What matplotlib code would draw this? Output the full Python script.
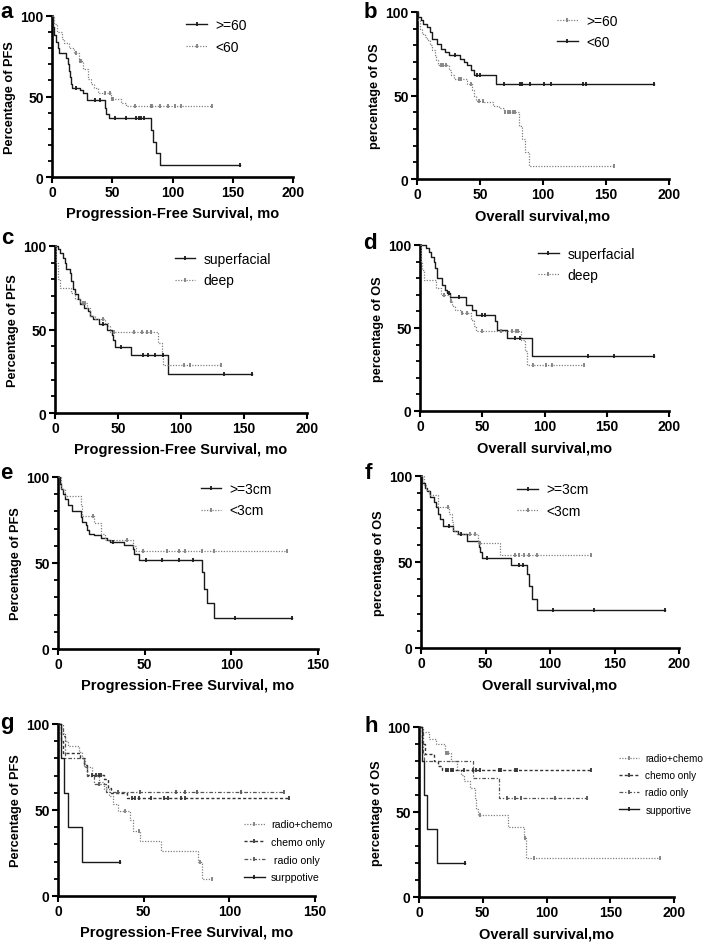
#*********************************************************************************
"""
Kaplan-Meier curves, PFS and OS by subgroup (panels a-h)
"""

#*********************************************************************************
import matplotlib
matplotlib.use('Agg')
import matplotlib.pyplot as plt
import numpy as np

plt.rcParams['font.family'] = ['Liberation Sans', 'DejaVu Sans']

#*********************************************************************************
# data (months, % surviving)
# a: PFS by age
a_ge60_t = [0, 1, 2, 3, 5, 6, 12, 13, 14, 15, 16, 17, 23, 26, 29, 44, 45, 47, 82, 83.5, 86, 90]
a_ge60_s = [100, 93, 88, 84, 80, 77, 74, 70, 66, 62, 58, 55, 54, 52, 48, 43, 39, 36.5, 29, 22, 15, 7.5]
a_ge60_c = [20, 36, 40, 52, 61, 70, 72, 74, 76, 156]
a_lt60_t = [0, 2, 4, 8, 10, 14, 18, 22, 26, 30, 32, 35, 38, 49, 57, 61]
a_lt60_s = [100, 95, 90, 86, 83, 80, 77, 72, 67, 61, 58, 55, 52, 48.5, 46, 44]
a_lt60_c = [20, 23, 24, 44, 48, 50, 51, 69, 82, 83, 90, 96, 102, 107, 133]

# b: OS by age
b_ge60_t = [0, 1, 2, 4, 6, 8, 10, 12, 14, 15, 17, 25, 27, 29, 40, 44, 45, 47, 53, 60, 65, 69, 81, 83, 86, 89]
b_ge60_s = [100, 95, 90, 87, 85, 83, 80, 77, 74, 71, 68, 65, 62, 60, 57, 53, 50, 47, 46, 43.5, 42.5, 40, 32, 24, 16, 8]
b_ge60_c = [19, 21, 23, 33, 35, 43, 49, 52, 70, 72, 74, 76, 78, 156]
b_lt60_t = [0, 1, 3, 5, 8, 10, 12, 16, 19, 22, 25, 34, 37, 40, 43, 45, 63]
b_lt60_s = [100, 97, 95, 93, 91, 88, 84, 81, 78, 76, 74, 72, 70, 68, 65, 62.5, 57]
b_lt60_c = [30, 48, 50, 69, 82, 83, 90, 101, 106, 132, 134, 188]

# c: PFS by depth
c_sup_t = [0, 2, 4, 6, 8, 9, 12, 13, 14, 16, 18, 20, 23, 26, 28, 30, 35, 41, 45, 46, 48, 60, 90]
c_sup_s = [100, 98, 96, 93, 90, 86, 84, 79, 74, 71, 68, 65, 63, 61, 58, 56, 53, 50, 47, 44, 39.5, 35, 23.5]
c_sup_c = [38, 52, 70, 74, 79, 86, 134, 156]
c_deep_t = [0, 1, 2, 4, 13, 16, 20, 25, 28, 32, 40, 42, 44, 82, 85, 86]
c_deep_s = [100, 90, 80, 75, 72, 68, 66, 63, 58, 56, 54, 52, 48.5, 42, 35.5, 28.5]
c_deep_c = [22, 24, 38, 47, 63, 69, 73, 76, 102, 107, 132]

# d: OS by depth
d_sup_t = [0, 5, 7, 9, 11, 12, 14, 18, 20, 22, 24, 37, 42, 45, 60, 62, 70, 90]
d_sup_s = [100, 98, 96, 93, 90, 86, 80, 76, 73, 71, 68.5, 64, 61, 58, 54.5, 48.5, 44, 33]
d_sup_c = [23, 31, 50, 52, 76, 80, 135, 156, 188]
d_deep_t = [0, 1, 2, 3, 13, 17, 24, 26, 28, 33, 41, 43, 45, 81, 84, 86]
d_deep_s = [100, 90, 85, 79, 74, 70, 66, 63, 61, 59, 55, 51, 48, 43, 36, 28]
d_deep_c = [19, 25, 34, 38, 50, 65, 74, 77, 79, 91, 101, 106, 132]

# e: PFS by size
e_ge3_t = [0, 1, 2, 3, 4, 6, 8, 13, 14, 16, 17, 18, 21, 25, 28, 30, 38, 43, 44, 47, 83, 84, 86, 90]
e_ge3_s = [100, 96, 93, 90, 87, 84, 80.5, 77, 74, 72, 69, 67, 66, 64.5, 63.5, 62.5, 60.5, 58, 55, 52, 45, 35, 27, 18]
e_ge3_c = [32, 51, 60, 70, 78, 102, 135]
e_lt3_t = [0, 2, 4, 13, 14, 21, 25, 27, 43, 45]
e_lt3_s = [100, 93, 89, 83, 77.5, 73, 67, 63.5, 60, 57]
e_lt3_c = [20, 40, 49, 63, 70, 73, 83, 90, 132]

# f: OS by size
f_ge3_t = [0, 1, 3, 5, 7, 10, 12, 13, 15, 17, 25, 29, 36, 45, 46, 47, 70, 82, 84, 86, 90]
f_ge3_s = [100, 96, 93, 91, 88, 85, 82, 78, 75, 71, 68, 66, 62, 59, 56, 52.5, 48, 43, 36, 28.5, 22]
f_ge3_c = [22, 31, 51, 76, 79, 102, 134, 189]
f_lt3_t = [0, 2, 4, 6, 13, 22, 24, 25, 28, 44, 61]
f_lt3_s = [100, 95, 92, 89, 82, 78, 73, 68, 66, 61, 54]
f_lt3_c = [21, 38, 42, 46, 73, 76, 80, 84, 90, 132]

# g: PFS by treatment
g_rc_t = [0, 2, 4, 6, 12, 14, 16, 20, 24, 27, 30, 32, 35, 42, 44, 48, 60, 82, 84]
g_rc_s = [100, 95, 90, 87, 84, 80, 75, 70, 66, 62, 58, 53.5, 49.5, 44, 38, 32, 26, 20, 10]
g_rc_c = [39, 47, 83, 90]
g_chemo_t = [0, 2, 3, 13, 15, 17, 27, 29, 31, 40]
g_chemo_s = [100, 90, 83, 80, 76, 70.5, 68, 63, 60, 57]
g_chemo_c = [20, 22, 24, 25, 43, 45, 47, 54, 62, 64, 72, 74, 135]
g_radio_t = [0, 3, 4, 15, 17, 21, 28]
g_radio_s = [100, 93, 80, 75, 70, 65, 60.5]
g_radio_c = [24, 35, 48, 69, 74, 81, 107, 132]
g_sup_t = [0, 2, 3.5, 6, 14]
g_sup_s = [100, 80, 60, 40, 20]
g_sup_c = [36]

# h: OS by treatment
h_rc_t = [0, 2, 8, 13, 20, 25, 30, 33, 35, 40, 44, 45, 46, 70, 82, 84]
h_rc_s = [100, 97, 93, 90, 85, 80, 75, 72, 68, 64, 58, 52, 48, 41, 35, 23]
h_rc_c = [21, 23, 48, 83, 90, 189]
h_chemo_t = [0, 2, 5, 12, 15, 18]
h_chemo_s = [100, 90, 84, 80, 77, 74.5]
h_chemo_c = [21, 23, 25, 27, 35, 42, 45, 48, 63, 64, 75, 77, 135]
h_radio_t = [0, 3, 4, 42, 63]
h_radio_s = [100, 85, 80, 70, 58.5]
h_radio_c = [69, 75, 80, 107, 132]
h_sup_t = [0, 2.5, 4, 6, 14]
h_sup_s = [100, 80, 60, 40, 20]
h_sup_c = [36]

pfs_xlabel = 'Progression-Free Survival, mo'
os_xlabel = 'Overall survival,mo'
pfs_ylabel = 'Percentage of PFS'
os_ylabel = 'percentage of OS'

#*********************************************************************************
# styles
SOLID = dict(color='#1a1a1a', ls='-', lw=1.0)
DOT = dict(color='#808080', ls=(0, (1, 1.2)), lw=0.9)
DASH = dict(color='#333333', ls=(0, (2.2, 1.6)), lw=1.0)
DASHDOT = dict(color='#555555', ls=(0, (3, 1.5, 1, 1.5)), lw=0.9)

W, H = 708, 945

def km(ax, t, s, c, style, label):
   # step curve out to the last censor, small ticks at censored times
   t = list(t); s = list(s)
   if max(c) > t[-1]:
      t = t + [max(c)]; s = s + [s[-1]]
   ax.step(t, s, where='post', clip_on=False, zorder=3, **style)
   idx = np.searchsorted(t, c, side='right') - 1
   cy = np.array(s)[idx]
   ax.plot(c, cy, ls='none', marker='|', ms=2.5, mew=1.3, color=style['color'], clip_on=False, zorder=4)
   # legend handle
   return ax.plot([], [], marker='|', ms=2.5, mew=1.3, markevery=[1], label=label, **style)[0]

def make_axes(fig, left, right, top, bottom, xmax, xlabel, ylabel):
   ax = fig.add_axes([left/W, 1-bottom/H, (right-left)/W, (bottom-top)/H])
   ax.set_xlim(0, xmax)
   ax.set_ylim(0, 100)
   for sp in ['top', 'right']:
      ax.spines[sp].set_visible(False)
   for sp in ['left', 'bottom']:
      ax.spines[sp].set_linewidth(1.9)
   ax.set_xticks(np.arange(0, xmax+1, 50))
   ax.set_yticks([0, 50, 100])
   ax.set_yticks(np.arange(0, 101, 10), minor=True)
   ax.tick_params(which='major', direction='out', length=4, width=1.5, labelsize=10, pad=2)
   ax.tick_params(which='minor', direction='out', length=3, width=1.3)
   for lab in ax.get_xticklabels() + ax.get_yticklabels():
      lab.set_fontweight('bold')
   ax.set_xlabel(xlabel, fontsize=10.5, fontweight='bold', labelpad=5)
   ax.set_ylabel(ylabel, fontsize=9.2, fontweight='bold', labelpad=3)
   ax.patch.set_alpha(0)
   return ax

def legend2(ax, handles, x, y):
   ax.legend(handles=handles, loc='upper left', bbox_to_anchor=(x, y), frameon=False,
             fontsize=10, handlelength=1.5, handletextpad=0.6, labelspacing=0.55)

def legend4(ax, handles, x, y, size):
   ax.legend(handles=handles, loc='upper left', bbox_to_anchor=(x, y), frameon=False,
             fontsize=size, handlelength=2.0, handletextpad=0.6, labelspacing=0.72)

fig = plt.figure(figsize=(W/100, H/100), dpi=100)

# panel a
ax = make_axes(fig, 52, 293, 17, 178, 200, pfs_xlabel, pfs_ylabel)
h1 = km(ax, a_ge60_t, a_ge60_s, a_ge60_c, SOLID, '>=60')
h2 = km(ax, a_lt60_t, a_lt60_s, a_lt60_c, DOT, '<60')
legend2(ax, [h1, h2], 0.505, 1.065)

# panel b
ax = make_axes(fig, 417, 669, 13, 180, 200, os_xlabel, os_ylabel)
h1 = km(ax, b_ge60_t, b_ge60_s, b_ge60_c, DOT, '>=60')
h2 = km(ax, b_lt60_t, b_lt60_s, b_lt60_c, SOLID, '<60')
legend2(ax, [h1, h2], 0.505, 1.065)

# panel c
ax = make_axes(fig, 55, 307, 247, 414, 200, pfs_xlabel, pfs_ylabel)
h1 = km(ax, c_sup_t, c_sup_s, c_sup_c, SOLID, 'superfacial')
h2 = km(ax, c_deep_t, c_deep_s, c_deep_c, DOT, 'deep')
legend2(ax, [h1, h2], 0.425, 1.04)

# panel d
ax = make_axes(fig, 420, 669, 246, 412, 200, os_xlabel, os_ylabel)
h1 = km(ax, d_sup_t, d_sup_s, d_sup_c, SOLID, 'superfacial')
h2 = km(ax, d_deep_t, d_deep_s, d_deep_c, DOT, 'deep')
legend2(ax, [h1, h2], 0.424, 1.065)

# panel e
ax = make_axes(fig, 58, 318, 478, 650, 150, pfs_xlabel, pfs_ylabel)
h1 = km(ax, e_ge3_t, e_ge3_s, e_ge3_c, SOLID, '>=3cm')
h2 = km(ax, e_lt3_t, e_lt3_s, e_lt3_c, DOT, '<3cm')
legend2(ax, [h1, h2], 0.50, 1.045)

# panel f
ax = make_axes(fig, 421, 679, 477, 649, 200, os_xlabel, os_ylabel)
h1 = km(ax, f_ge3_t, f_ge3_s, f_ge3_c, SOLID, '>=3cm')
h2 = km(ax, f_lt3_t, f_lt3_s, f_lt3_c, DOT, '<3cm')
legend2(ax, [h1, h2], 0.325, 1.035)

# panel g
ax = make_axes(fig, 58, 315, 725, 897, 150, pfs_xlabel, pfs_ylabel)
h1 = km(ax, g_rc_t, g_rc_s, g_rc_c, DOT, 'radio+chemo')
h2 = km(ax, g_chemo_t, g_chemo_s, g_chemo_c, DASH, 'chemo only')
h3 = km(ax, g_radio_t, g_radio_s, g_radio_c, DASHDOT, ' radio only')
h4 = km(ax, g_sup_t, g_sup_s, g_sup_c, SOLID, 'surppotive')
legend4(ax, [h1, h2, h3, h4], 0.685, 0.50, 7.6)

# panel h
ax = make_axes(fig, 419, 674, 728, 898, 200, os_xlabel, os_ylabel)
h1 = km(ax, h_rc_t, h_rc_s, h_rc_c, DOT, 'radio+chemo')
h2 = km(ax, h_chemo_t, h_chemo_s, h_chemo_c, DASH, 'chemo only')
h3 = km(ax, h_radio_t, h_radio_s, h_radio_c, DASHDOT, 'radio only')
h4 = km(ax, h_sup_t, h_sup_s, h_sup_c, SOLID, 'supportive')
legend4(ax, [h1, h2, h3, h4], 0.75, 0.90, 7.2)

# panel letters
for letter, x, y in [('a', 0, 2), ('b', 364, 2), ('c', 1, 228), ('d', 363, 233),
                     ('e', 0, 463), ('f', 365, 463), ('g', 0, 713), ('h', 364, 716)]:
   fig.text(x/W, 1-y/H, letter, fontsize=16, fontweight='bold', ha='left', va='top')

plt.savefig('out.png', dpi=100)
plt.close()
